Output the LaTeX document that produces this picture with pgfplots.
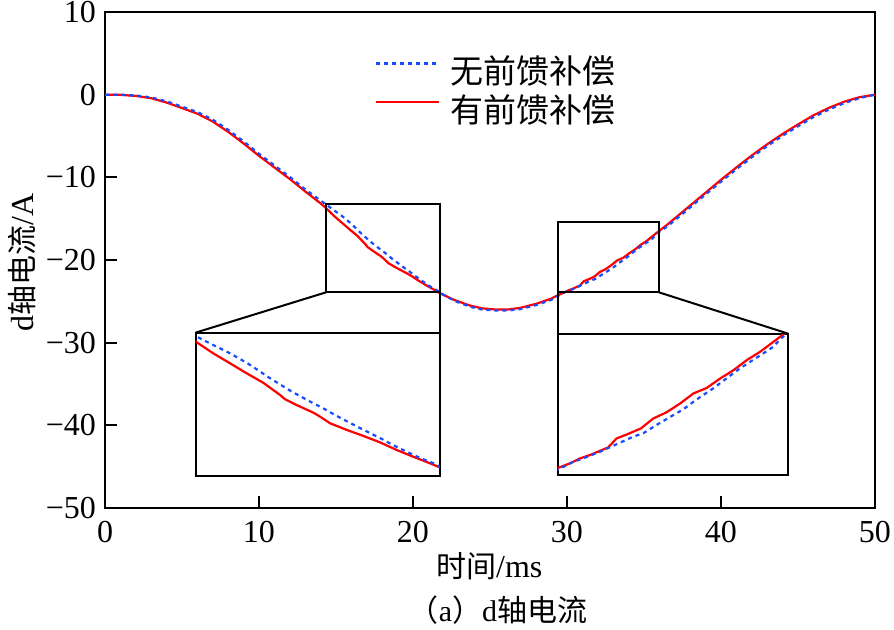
\documentclass[border=0pt]{standalone}
\usepackage{fontspec}
\setmainfont{Liberation Serif}
\newfontfamily\cjk{Noto Sans CJK SC}
\usepackage{pgfplots}
\pgfplotsset{compat=1.18}
\usepackage{pgfplotstable}
\definecolor{myblue}{RGB}{25,75,255}
\definecolor{myred}{RGB}{255,0,0}

\pgfplotstableread{
t v
0 0
1 -0.02
2 -0.15
3 -0.43
4 -0.95
5 -1.62
6 -2.30
7 -3.25
8 -4.50
9 -5.90
10 -7.40
11 -8.80
12 -10.20
13 -11.70
14 -13.15
14.35 -13.72
14.88 -14.68
15.39 -15.50
15.89 -16.31
16.39 -17.08
16.90 -18.08
17.05 -18.43
17.40 -18.90
17.91 -19.53
18.11 -19.85
18.41 -20.39
18.92 -20.94
19.42 -21.43
19.92 -21.95
20.43 -22.58
20.93 -23.13
21.44 -23.67
21.73 -24.00
22.70 -24.85
23.70 -25.51
24.50 -25.85
25.44 -26.00
26.20 -25.98
26.95 -25.79
28.00 -25.30
29.00 -24.65
29.42 -24.24
29.75 -23.99
30.04 -23.71
30.32 -23.52
30.61 -23.28
30.84 -23.09
31.08 -22.58
31.37 -22.36
31.77 -22.02
32.13 -21.45
32.51 -21.10
32.89 -20.61
33.27 -20.04
33.65 -19.73
34.03 -19.20
34.41 -18.73
34.79 -18.16
35.17 -17.69
35.55 -17.13
35.84 -16.69
36.50 -15.74
37.55 -14.11
38.50 -12.63
39.29 -11.40
40 -10.30
41 -8.80
42 -7.35
43 -6.00
44 -4.75
45 -3.60
46 -2.50
47 -1.60
48 -0.85
49 -0.30
50 0
}\redtab

\pgfplotstableread{
t v
0 0
1 0
2 -0.10
3 -0.33
4 -0.80
5 -1.45
6 -2.10
7 -3.02
8 -4.25
9 -5.65
10 -7.15
11 -8.55
12 -9.95
13 -11.45
14 -12.80
14.38 -13.32
14.88 -14.00
15.39 -14.68
15.89 -15.45
16.29 -16.15
16.50 -16.55
16.80 -17.05
17.25 -17.80
17.76 -18.55
18.01 -18.90
18.26 -19.25
18.51 -19.64
18.77 -20.02
19.02 -20.37
19.27 -20.72
19.72 -21.33
19.98 -21.68
20.23 -22.05
20.48 -22.40
20.73 -22.71
20.98 -23.04
21.23 -23.33
21.54 -23.66
21.73 -23.94
22.70 -24.95
23.70 -25.65
24.50 -26.00
25.44 -26.12
26.20 -26.10
26.95 -25.95
28.00 -25.45
29.00 -24.80
29.42 -24.33
29.85 -23.90
30.13 -23.71
30.61 -23.33
31.08 -22.91
31.56 -22.48
31.84 -22.29
32.22 -21.82
32.70 -21.26
32.98 -20.94
33.37 -20.37
33.84 -19.75
34.22 -19.18
34.60 -18.62
34.89 -18.25
35.27 -17.77
35.55 -17.40
35.74 -16.99
35.91 -16.69
36.50 -15.95
37.55 -14.35
38.50 -12.85
39.29 -11.62
40 -10.52
41 -9.02
42 -7.57
43 -6.22
44 -4.97
45 -3.82
46 -2.72
47 -1.80
48 -1.02
49 -0.42
50 0
}\bluetab

\pgfplotsset{
  blueline/.style={myblue, line width=1.1pt, dash pattern=on 2pt off 2pt},
  redline/.style={myred, line width=1.1pt},
  inset/.style={scale only axis, anchor=south west, xtick=\empty, ytick=\empty,
    axis line style={line width=1pt}, axis background/.style={fill=white}},
}

\begin{document}
\begin{tikzpicture}
\useasboundingbox (0,0) rectangle (447pt,-314.5pt);
\begin{axis}[name=main,
  at={(52.5pt,-254pt)}, anchor=south west,
  scale only axis, width=385pt, height=248pt,
  xmin=0, xmax=50, ymin=-50, ymax=10,
  xtick={0,10,20,30,40,50}, xticklabels={0,10,20,30,40,50},
  ytick={-50,-40,-30,-20,-10,0,10},
  yticklabels={−50,−40,−30,−20,−10,0,10},
  tick align=inside, tick pos=left, major tick length=6pt,
  axis line style={line width=1pt},
  every tick/.append style={black, line width=1pt},
  tick label style={font=\fontsize{16}{19}\selectfont},
  xticklabel style={yshift=-3pt},
  yticklabel style={xshift=-1pt},
  xlabel={{\cjk\fontsize{15}{18}\selectfont 时间}/ms},
  xlabel style={at={(axis description cs:0.499,0)}, anchor=center, yshift=-29.3pt, font=\fontsize{16}{19}\selectfont},
  ylabel={d{\cjk\fontsize{15}{18}\selectfont 轴电流}/A},
  ylabel style={at={(axis description cs:-0.1071,0.496)}, anchor=center, rotate=0, font=\fontsize{16}{19}\selectfont},
  legend style={at={(axis description cs:0.350,0.912)}, anchor=north west,
    draw=none, fill=none, inner sep=0pt, row sep=4pt,
    nodes={inner sep=0pt}, column sep=5pt,
    font=\cjk\fontsize{16.5}{19}\selectfont},
  legend cell align=left,
  legend image code/.code={\draw[#1] (0pt,0.4em) -- (31.5pt,0.4em);},
  reverse legend,
]
\addplot[redline] table[x=t,y=v] {\redtab};
\addlegendentry{有前馈补偿}
\addplot[blueline] table[x=t,y=v] {\bluetab};
\addlegendentry{无前馈补偿}
% zoom boxes and connectors
\draw[line width=1pt] (axis cs:14.35,-13.18) rectangle (axis cs:21.73,-23.91);
\draw[line width=1pt] (axis cs:14.35,-23.91) -- (axis cs:5.89,-28.78);
\draw[line width=1pt] (axis cs:21.73,-23.91) -- (axis cs:21.73,-28.78);
\draw[line width=1pt] (axis cs:29.40,-15.44) rectangle (axis cs:35.97,-23.91);
\draw[line width=1pt] (axis cs:29.40,-23.91) -- (axis cs:29.40,-28.90);
\draw[line width=1pt] (axis cs:35.97,-23.91) -- (axis cs:44.35,-28.90);
\end{axis}

\begin{axis}[inset, at={(97.85pt,-237.85pt)}, width=122pt, height=71.35pt,
  xmin=14.35, xmax=21.73, ymin=-24.68, ymax=-13.02]
\addplot[redline] table[x=t,y=v] {\redtab};
\addplot[blueline] table[x=t,y=v] {\bluetab};
\end{axis}

\begin{axis}[inset, at={(278.85pt,-237.5pt)}, width=115.15pt, height=70.5pt,
  xmin=29.40, xmax=35.97, ymin=-24.65, ymax=-16.68]
\addplot[redline] table[x=t,y=v] {\redtab};
\addplot[blueline] table[x=t,y=v] {\bluetab};
\end{axis}

\node[font=\fontsize{15}{18}\selectfont] at (249pt,-305pt) {{\cjk （}a{\cjk ）}d{\cjk 轴电流}};
\end{tikzpicture}
\end{document}
